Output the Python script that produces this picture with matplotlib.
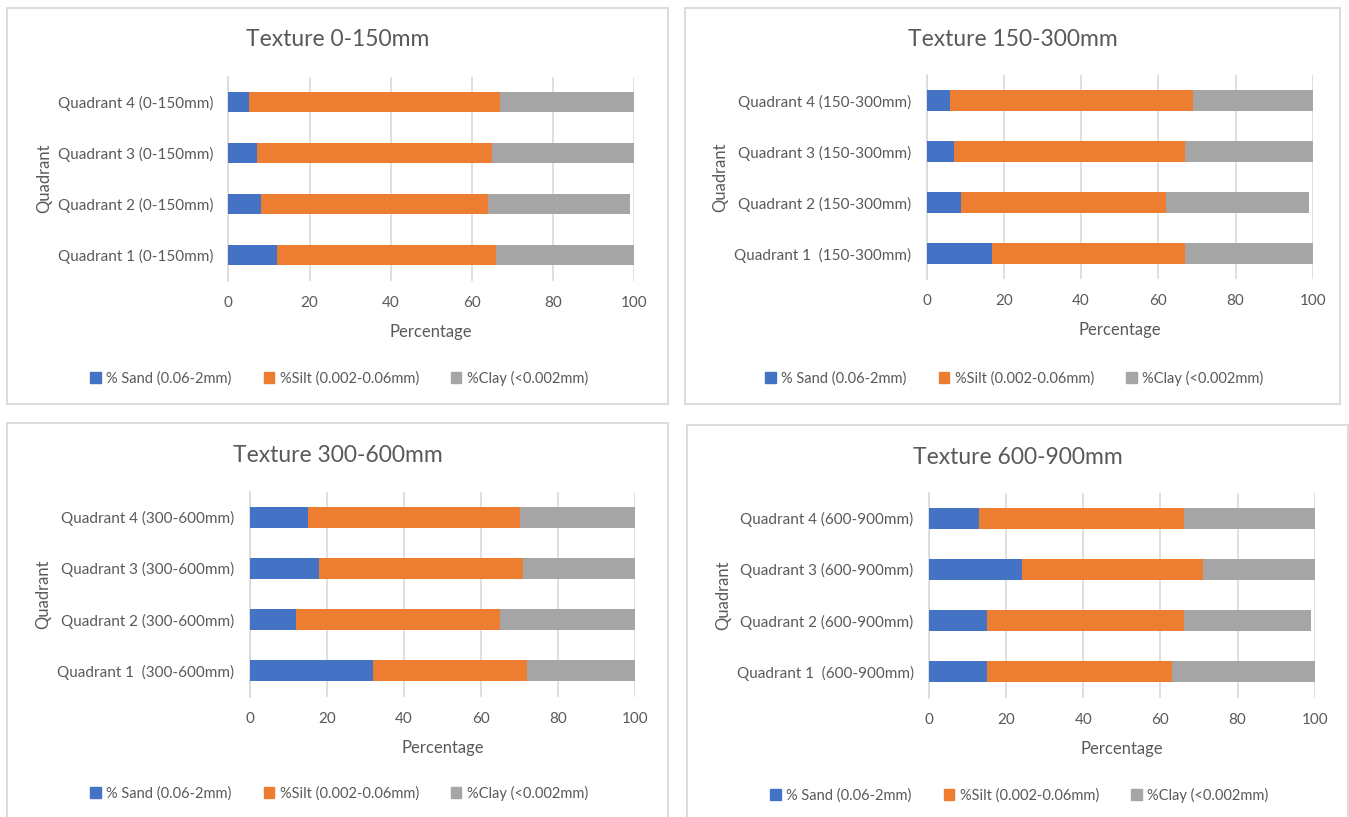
import matplotlib
matplotlib.use("Agg")
import matplotlib.pyplot as plt
from matplotlib.patches import Patch, Rectangle

plt.rcParams['font.family'] = ['Lato', 'DejaVu Sans']

# soil texture per quadrant (Q1..Q4), percent
sand_0_150 = [12, 8, 7, 5]
silt_0_150 = [54, 56, 58, 62]
clay_0_150 = [34, 35, 35, 33]

sand_150_300 = [17, 9, 7, 6]
silt_150_300 = [50, 53, 60, 63]
clay_150_300 = [33, 37, 33, 31]

sand_300_600 = [32, 12, 18, 15]
silt_300_600 = [40, 53, 53, 55]
clay_300_600 = [28, 35, 29, 30]

sand_600_900 = [15, 15, 24, 13]
silt_600_900 = [48, 51, 47, 53]
clay_600_900 = [37, 33, 29, 34]

labels_0_150 = ["Quadrant 1 (0-150mm)", "Quadrant 2 (0-150mm)",
                "Quadrant 3 (0-150mm)", "Quadrant 4 (0-150mm)"]
labels_150_300 = ["Quadrant 1  (150-300mm)", "Quadrant 2 (150-300mm)",
                  "Quadrant 3 (150-300mm)", "Quadrant 4 (150-300mm)"]
labels_300_600 = ["Quadrant 1  (300-600mm)", "Quadrant 2 (300-600mm)",
                  "Quadrant 3 (300-600mm)", "Quadrant 4 (300-600mm)"]
labels_600_900 = ["Quadrant 1  (600-900mm)", "Quadrant 2 (600-900mm)",
                  "Quadrant 3 (600-900mm)", "Quadrant 4 (600-900mm)"]

titles = ["Texture 0-150mm", "Texture 150-300mm", "Texture 300-600mm", "Texture 600-900mm"]
series_names = ["% Sand (0.06-2mm)", "%Silt (0.002-0.06mm)", "%Clay (<0.002mm)"]
colors = ["#4472C4", "#ED7D31", "#A5A5A5"]
txt = "#595959"
grid_c = "#D9D9D9"

W, H = 1349, 817
fig = plt.figure(figsize=(W / 100, H / 100), dpi=100)


def box(x0, y0, x1, y1):
    return [x0 / W, 1 - y1 / H, (x1 - x0) / W, (y1 - y0) / H]


# panel frame, plot area (pixels)
panels = [
    ((7, 8, 668, 404), (228.3, 76.5, 634.3, 280.5)),
    ((685, 8, 1340, 404), (926.7, 75, 1312.7, 279)),
    ((7, 423, 668, 830), (249.7, 491.5, 635.3, 696.5)),
    ((687, 425, 1348, 830), (929, 492.5, 1314.7, 697.5)),
]
data = [
    (sand_0_150, silt_0_150, clay_0_150, labels_0_150),
    (sand_150_300, silt_150_300, clay_150_300, labels_150_300),
    (sand_300_600, silt_300_600, clay_300_600, labels_300_600),
    (sand_600_900, silt_600_900, clay_600_900, labels_600_900),
]

for (frame, area), (sand, silt, clay, labels), title in zip(panels, data, titles):
    fx0, fy0, fx1, fy1 = frame
    fig.patches.append(Rectangle((fx0 / W, 1 - fy1 / H), (fx1 - fx0) / W, (fy1 - fy0) / H,
                                 transform=fig.transFigure, fill=False,
                                 edgecolor=grid_c, linewidth=1.3))
    ax = fig.add_axes(box(*area))
    y = list(range(4))
    left2 = [a + b for a, b in zip(sand, silt)]
    ax.barh(y, sand, height=0.41, color=colors[0], zorder=3)
    ax.barh(y, silt, left=sand, height=0.41, color=colors[1], zorder=3)
    ax.barh(y, clay, left=left2, height=0.41, color=colors[2], zorder=3)
    ax.set_xlim(0, 100)
    ax.set_ylim(-0.5, 3.5)
    ax.set_xticks(range(0, 101, 20))
    ax.set_yticks(y)
    ax.set_yticklabels(labels)
    ax.tick_params(axis='y', length=0, pad=11, labelsize=11, labelcolor=txt)
    ax.tick_params(axis='x', length=0, pad=11, labelsize=11, labelcolor=txt)
    ax.grid(axis='x', color=grid_c, linewidth=1.2, zorder=0)
    for s in ['top', 'right', 'bottom']:
        ax.spines[s].set_visible(False)
    ax.spines['left'].set_color(grid_c)
    ax.spines['left'].set_linewidth(1.2)
    ax.set_xlabel("Percentage", fontsize=12, color=txt, labelpad=10)
    ax.set_ylabel("Quadrant", fontsize=12, color=txt)

    cx = (fx0 + fx1) / 2
    fig.text(cx / W, 1 - (fy0 + 32) / H, title, ha='center', va='center',
             fontsize=16.5, color=txt)
    handles = [Patch(color=c) for c in colors]
    fig.legend(handles, series_names, loc='center',
               bbox_to_anchor=((cx + 2) / W, 1 - (fy0 + 370) / H),
               ncol=3, frameon=False, fontsize=10.5, labelcolor=txt,
               handlelength=0.7, handleheight=0.7, handletextpad=0.4,
               columnspacing=2.2)

fig.savefig("out.png", dpi=100)
